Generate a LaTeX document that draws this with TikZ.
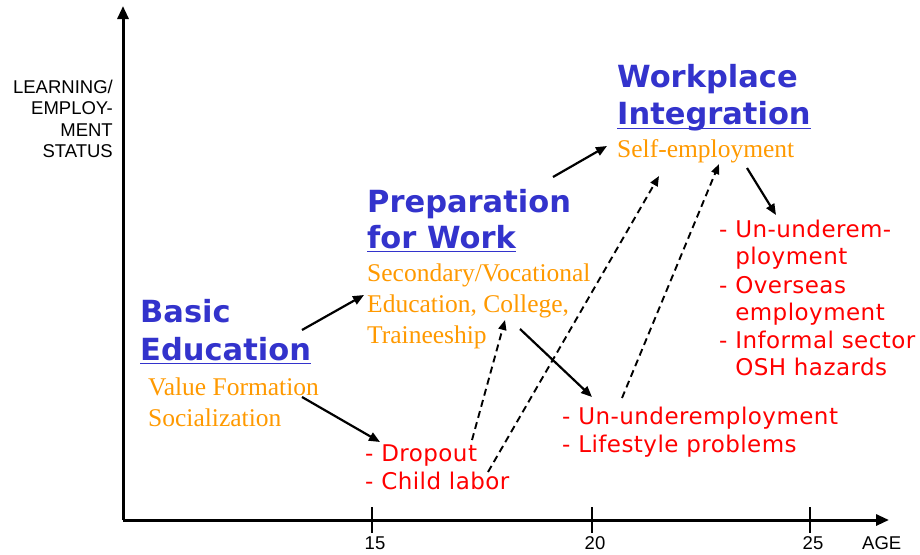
\documentclass[tikz,border=0pt]{standalone}
\usepackage{fontspec}
\setmainfont{Liberation Serif}
\newfontfamily\arialf{Liberation Sans}
\newfontfamily\verdf[LetterSpace=2]{DejaVu Sans}
\newfontfamily\headf{DejaVu Sans}
\usetikzlibrary{arrows.meta}
\definecolor{blueh}{RGB}{51,51,204}
\definecolor{orangeh}{RGB}{255,153,0}
\definecolor{redh}{RGB}{255,0,0}
\begin{document}
\begin{tikzpicture}[x=1pt,y=-1pt,
  axislab/.style={font=\arialf\fontsize{18.5}{20}\selectfont, inner sep=0, anchor=base east},
  ticklab/.style={font=\arialf\fontsize{18.5}{20}\selectfont, inner sep=0, anchor=base},
  head/.style={font=\headf\bfseries\fontsize{30.5}{36}\selectfont, text=blueh, inner sep=0, anchor=base west},
  sub/.style={font=\fontsize{25.5}{30}\selectfont, text=orangeh, inner sep=0, anchor=base west},
  risk/.style={font=\verdf\fontsize{23}{28}\selectfont, text=redh, inner sep=0, anchor=base west},
  uline/.style={blueh, line width=1.3pt},
  axis/.style={line width=3pt, -{Triangle[length=13pt,width=11pt]}},
  tickmark/.style={line width=2pt},
  flow/.style={line width=2.2pt, -{Triangle[length=11pt,width=9pt]}},
  dflow/.style={line width=1.9pt, dash pattern=on 7pt off 4.5pt, -{Triangle[length=10pt,width=8pt]}}
]
\useasboundingbox (0,0) rectangle (920,554);
% axes
\coordinate (O) at (123,520);
\coordinate (xend) at (889,520);
\coordinate (yend) at (123,6);
\draw[axis] (O) -- (xend);
\draw[axis] (O) -- (yend);
\foreach \n/\x in {15/372,20/592,25/810}{
  \coordinate (t\n a) at (\x,507);
  \coordinate (t\n b) at (\x,533);
  \draw[tickmark] (t\n a) -- (t\n b);
  \node[ticklab] (l\n) at (\x+3,549) {\n};
}
\node[ticklab, anchor=base west] (age) at (862,549) {AGE};
% y-axis label
\node[axislab] (y1) at (113,93) {LEARNING/};
\node[axislab] (y2) at (113,114) {EMPLOY-};
\node[axislab] (y3) at (113,136) {MENT};
\node[axislab] (y4) at (113,157) {STATUS};
% Basic Education
\node[head] (be1) at (140,322) {Basic};
\node[head] (be2) at (140,360) {Education};
\draw[uline] ([yshift=-3.5pt]be2.base west) -- ([yshift=-3.5pt]be2.base east);
\node[sub] (bs1) at (148,395) {Value Formation};
\node[sub] (bs2) at (148,426) {Socialization};
% Preparation for Work
\node[head] (pw1) at (367,212) {Preparation};
\node[head] (pw2) at (367,248) {for Work};
\draw[uline] ([yshift=-3.5pt]pw2.base west) -- ([yshift=-3.5pt]pw2.base east);
\node[sub] (ps1) at (367,281) {Secondary/Vocational};
\node[sub] (ps2) at (367,312) {Education, College,};
\node[sub] (ps3) at (367,343) {Traineeship};
% Workplace Integration
\node[head] (wi1) at (617,87) {Workplace};
\node[head] (wi2) at (617,124) {Integration};
\draw[uline] ([yshift=-4.5pt]wi2.base west) -- ([yshift=-4.5pt]wi2.base east);
\node[sub] (ws1) at (617,157) {Self-employment};
% risks
\node[risk] (r1) at (365,461) {- Dropout};
\node[risk] (r2) at (365,489) {- Child labor};
\node[risk] (m1) at (562,424) {- Un-underemployment};
\node[risk] (m2) at (562,452) {- Lifestyle problems};
\node[risk] (w1) at (719,237) {- Un-underem-};
\node[risk] (w2) at (719,264) {\phantom{- }ployment};
\node[risk] (w3) at (719,293) {- Overseas};
\node[risk] (w4) at (719,320) {\phantom{- }employment};
\node[risk] (w5) at (719,348) {- Informal sector};
\node[risk] (w6) at (719,375) {\phantom{- }OSH hazards};
% connector end points
\coordinate (a1s) at (302,330); \coordinate (a1e) at (364,295);
\coordinate (a2s) at (302,397); \coordinate (a2e) at (380,442);
\coordinate (a3s) at (553,177); \coordinate (a3e) at (607,146);
\coordinate (a4s) at (520,329); \coordinate (a4e) at (592,397);
\coordinate (a5s) at (747,168); \coordinate (a5e) at (776,215);
\coordinate (d1s) at (472,440); \coordinate (d1e) at (505,320);
\coordinate (d2s) at (488,472); \coordinate (d2e) at (659,176);
\coordinate (d3s) at (622,398); \coordinate (d3e) at (719,164);
\draw[flow] (a1s) -- (a1e);
\draw[flow] (a2s) -- (a2e);
\draw[flow] (a3s) -- (a3e);
\draw[flow] (a4s) -- (a4e);
\draw[flow] (a5s) -- (a5e);
\draw[dflow] (d1s) -- (d1e);
\draw[dflow] (d2s) -- (d2e);
\draw[dflow] (d3s) -- (d3e);
\end{tikzpicture}
\end{document}
